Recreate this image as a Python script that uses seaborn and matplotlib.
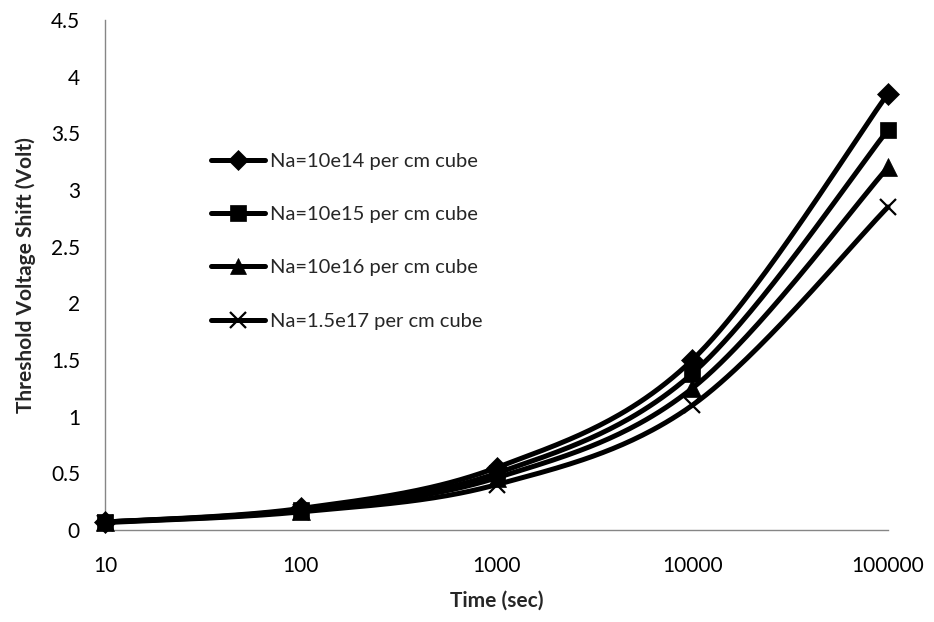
import numpy as np
import pandas as pd
import matplotlib
matplotlib.use("Agg")
import matplotlib.pyplot as plt
from matplotlib.lines import Line2D
import seaborn as sns

# Stress time (s) and threshold-voltage shift (V) for four substrate dopings
time_s = [10, 100, 1000, 10000, 100000]
series_labels = [
    "Na=10e14 per cm cube",
    "Na=10e15 per cm cube",
    "Na=10e16 per cm cube",
    "Na=1.5e17 per cm cube",
]
vt_1e14 = [0.07, 0.19, 0.55, 1.50, 3.85]
vt_1e15 = [0.07, 0.18, 0.50, 1.38, 3.53]
vt_1e16 = [0.07, 0.17, 0.46, 1.25, 3.20]
vt_15e17 = [0.065, 0.16, 0.40, 1.10, 2.85]
series_values = [vt_1e14, vt_1e15, vt_1e16, vt_15e17]
marker_styles = ["D", "s", "^", "x"]
marker_sizes = [11, 12, 13, 12]

x_ticks = [10, 100, 1000, 10000, 100000]
y_ticks = [0, 0.5, 1, 1.5, 2, 2.5, 3, 3.5, 4, 4.5]

sns.set_theme(style="white")
plt.rcParams["font.family"] = ["Lato", "DejaVu Sans"]

W, H = 934, 622
fig = plt.figure(figsize=(W / 100, H / 100), dpi=100)
left, right, top, bottom = 105, 888, 20, 530
ax = fig.add_axes([left / W, 1 - bottom / H, (right - left) / W, (bottom - top) / H])

# scale factors so the spline is built in screen-like proportions
sx = (right - left) / 4.0      # pixels per decade
sy = (bottom - top) / 4.5      # pixels per volt


def smooth_curve(xs, ys, n=60):
    """Bezier smoothing through the points, computed in log-x screen space."""
    u = (np.log10(xs)) * sx
    v = np.asarray(ys, dtype=float) * sy
    P = np.column_stack([u, v])
    m = len(P)
    out = []
    for i in range(m - 1):
        p0 = P[i - 1] if i > 0 else P[i]
        p1 = P[i]
        p2 = P[i + 1]
        p3 = P[i + 2] if i + 2 < m else P[i + 1]
        c1 = p1 + (p2 - p0) / 6.0
        c2 = p2 - (p3 - p1) / 6.0
        t = np.linspace(0, 1, n)[:, None]
        seg = ((1 - t) ** 3) * p1 + 3 * ((1 - t) ** 2) * t * c1 + 3 * (1 - t) * t ** 2 * c2 + t ** 3 * p2
        out.append(seg if i == 0 else seg[1:])
    out = np.vstack(out)
    return 10 ** (out[:, 0] / sx), out[:, 1] / sy


frames = []
for lab, vals in zip(series_labels, series_values):
    cx, cy = smooth_curve(time_s, vals)
    frames.append(pd.DataFrame({"time": cx, "shift": cy, "series": lab}))
curves = pd.concat(frames, ignore_index=True)

line_w = 3.6
sns.lineplot(
    data=curves, x="time", y="shift", hue="series", hue_order=series_labels,
    palette=["black"] * 4, estimator=None, sort=False, linewidth=line_w,
    legend=False, ax=ax,
)
for ln in ax.get_lines():
    ln.set_solid_capstyle("round")
    ln.set_clip_on(False)

for vals, mk, ms in zip(series_values, marker_styles, marker_sizes):
    ax.plot(time_s, vals, linestyle="none", marker=mk, markersize=ms,
            color="black", markeredgewidth=1.6 if mk == "x" else 0.5,
            zorder=5, clip_on=False)

ax.set_xscale("log")
ax.set_xlim(10, 100000)
ax.set_ylim(0, 4.5)
ax.set_xticks(x_ticks)
ax.set_xticklabels([str(t) for t in x_ticks])
ax.xaxis.set_minor_locator(matplotlib.ticker.NullLocator())
ax.set_yticks(y_ticks)
ax.set_yticklabels([f"{t:g}" for t in y_ticks])

axis_grey = "#868686"
for side in ["top", "right"]:
    ax.spines[side].set_visible(False)
for side in ["left", "bottom"]:
    ax.spines[side].set_color(axis_grey)
    ax.spines[side].set_linewidth(1.0)
ax.tick_params(axis="both", which="major", direction="out", length=5, width=1,
               color=axis_grey, labelsize=15, labelcolor="black")
ax.tick_params(axis="y", pad=13)
ax.tick_params(axis="x", pad=14)

ax.set_xlabel("Time (sec)", fontsize=15, fontweight="bold", labelpad=10)
ax.set_ylabel("Threshold Voltage Shift (Volt)", fontsize=15, fontweight="bold", labelpad=11)

handles = [
    Line2D([0], [0], color="black", linewidth=line_w, marker=mk, markersize=ms - 1,
           markeredgewidth=1.6 if mk == "x" else 0.5)
    for mk, ms in zip(marker_styles, marker_sizes)
]
ax.legend(handles, series_labels, loc="upper left", bbox_to_anchor=(0.135, 0.74),
          frameon=False, fontsize=14.5, labelspacing=1.8, handlelength=2.7,
          handletextpad=0.25, borderpad=0, borderaxespad=0)

fig.savefig("out.png", dpi=100, facecolor="white")
